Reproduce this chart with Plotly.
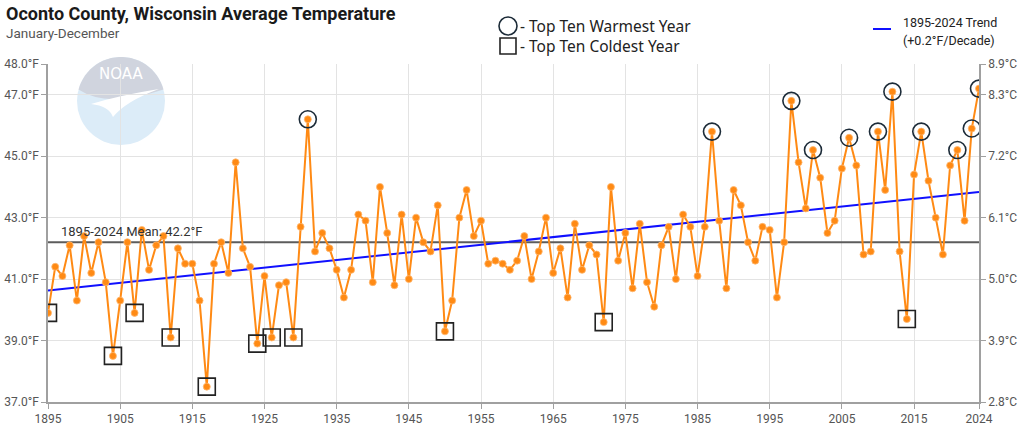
import numpy as np
import plotly.graph_objects as go

# ---------------- data ----------------
years = list(range(1895, 2025))
temps_f = [
    39.9, 41.4, 41.1, 42.1, 40.3, 42.4, 41.2, 42.2, 40.9, 38.5,   # 1895-1904
    40.3, 42.2, 39.9, 42.6, 41.3, 42.1, 42.4, 39.1, 42.0, 41.5,   # 1905-1914
    41.5, 40.3, 37.5, 41.5, 42.2, 41.2, 44.8, 42.0, 41.4, 38.9,   # 1915-1924
    41.1, 39.1, 40.8, 40.9, 39.1, 42.7, 46.2, 41.9, 42.5, 42.0,   # 1925-1934
    41.3, 40.4, 41.3, 43.1, 42.9, 40.9, 44.0, 42.5, 40.8, 43.1,   # 1935-1944
    41.0, 43.0, 42.2, 41.9, 43.4, 39.3, 40.3, 43.0, 43.9, 42.4,   # 1945-1954
    42.9, 41.5, 41.6, 41.5, 41.3, 41.6, 42.4, 41.0, 41.9, 43.0,   # 1955-1964
    41.2, 42.0, 40.4, 42.8, 41.3, 42.1, 41.8, 39.6, 44.0, 41.6,   # 1965-1974
    42.5, 40.7, 42.8, 40.9, 40.1, 42.1, 42.7, 41.0, 43.1, 42.7,   # 1975-1984
    41.1, 42.7, 45.8, 42.9, 40.7, 43.9, 43.4, 42.2, 41.6, 42.7,   # 1985-1994
    42.6, 40.4, 42.2, 46.8, 44.8, 43.3, 45.2, 44.3, 42.5, 42.9,   # 1995-2004
    44.6, 45.6, 44.7, 41.8, 41.9, 45.8, 43.9, 47.1, 41.9, 39.7,   # 2005-2014
    44.4, 45.8, 44.2, 43.0, 41.8, 44.7, 45.2, 42.9, 45.9, 47.2,   # 2015-2024
]
assert len(temps_f) == len(years)

warmest_years = [1931, 1987, 1998, 2001, 2006, 2010, 2012, 2016, 2021, 2023, 2024]
coldest_years = [1895, 1904, 1907, 1912, 1917, 1924, 1926, 1929, 1950, 1972, 2014]

x_ticks = [1895, 1905, 1915, 1925, 1935, 1945, 1955, 1965, 1975, 1985, 1995, 2005, 2015, 2024]
y_ticks_f = [37, 39, 41, 43, 45, 47, 48]
y_tick_labels_f = [f"{v:.1f}°F" for v in y_ticks_f]
y_tick_labels_c = [f"{(v - 32) * 5 / 9:.1f}°C" for v in y_ticks_f]

title_text = "Oconto County, Wisconsin Average Temperature"
subtitle_text = "January-December"

# ---------------- derived ----------------
lookup = dict(zip(years, temps_f))
warm_vals = [lookup[y] for y in warmest_years]
cold_vals = [lookup[y] for y in coldest_years]
mean_val = float(np.mean(temps_f))
slope, intercept = np.polyfit(years, temps_f, 1)
trend_x = [years[0], years[-1]]
trend_y = [slope * x + intercept for x in trend_x]

# ---------------- layout geometry ----------------
W, H = 1024, 432
ML, MR, MT, MB = 48, 45, 64, 30
PW = W - ML - MR
PH = H - MT - MB


def pxx(px):
    return (px - ML) / PW


def pxy(py):
    return (H - MB - py) / PH


ORANGE = "#FF8A14"
GRID = "#e3e3e3"
AXIS = "#a0a0a0"
TICKFONT = dict(family="Roboto", size=12, color="#555555")

fig = go.Figure()

# mean line
fig.add_trace(go.Scatter(x=[years[0], years[-1]], y=[round(mean_val, 1)] * 2, mode="lines",
                         line=dict(color="#5c5c5c", width=2), hoverinfo="skip"))
# trend
fig.add_trace(go.Scatter(x=trend_x, y=trend_y, mode="lines",
                         line=dict(color="#1010ff", width=2), hoverinfo="skip"))
# data
fig.add_trace(go.Scatter(x=years, y=temps_f, mode="lines+markers",
                         line=dict(color=ORANGE, width=2),
                         marker=dict(color=ORANGE, size=7, line=dict(color="#ffb870", width=0.8))))
# warmest circles
fig.add_trace(go.Scatter(x=warmest_years, y=warm_vals, mode="markers",
                         marker=dict(symbol="circle-open", size=17, color="#1c2b38",
                                     line=dict(width=1.6, color="#1c2b38"))))
# coldest squares
fig.add_trace(go.Scatter(x=coldest_years, y=cold_vals, mode="markers",
                         marker=dict(symbol="square-open", size=17, color="#222222",
                                     line=dict(width=1.6, color="#222222"))))
# dummy trace for right axis
fig.add_trace(go.Scatter(x=[years[0]], y=[y_ticks_f[0]], yaxis="y2", mode="markers",
                         marker=dict(opacity=0), hoverinfo="skip"))

shapes = []
# NOAA watermark (approximate)
cx, cy, r = 121, 101, 44
shapes.append(dict(type="circle", xref="paper", yref="paper", layer="below",
                   x0=pxx(cx - r), x1=pxx(cx + r), y0=pxy(cy + r), y1=pxy(cy - r),
                   fillcolor="#dcecf8", line=dict(width=0)))
# gray cap
pts = []
ang = np.linspace(np.deg2rad(195), np.deg2rad(345), 30)
for a in ang:
    pts.append((cx + r * np.cos(a), cy + r * np.sin(a)))
path = "M " + " L ".join(f"{pxx(x):.5f},{pxy(y):.5f}" for x, y in pts)
path += f" Q {pxx(cx + 20):.5f},{pxy(cy - 4):.5f} {pxx(cx):.5f},{pxy(cy - 2):.5f}"
path += f" Q {pxx(cx - 25):.5f},{pxy(cy):.5f} {pxx(pts[0][0]):.5f},{pxy(pts[0][1]):.5f} Z"
shapes.append(dict(type="path", xref="paper", yref="paper", layer="below", path=path,
                   fillcolor="#d0d4de", line=dict(width=0)))
# white swoosh
sw = (f"M {pxx(cx - 30):.5f},{pxy(cy + 3):.5f} Q {pxx(cx):.5f},{pxy(cy - 6):.5f} {pxx(cx + 38):.5f},{pxy(cy - 12):.5f}"
      f" Q {pxx(cx + 5):.5f},{pxy(cy):.5f} {pxx(cx - 8):.5f},{pxy(cy + 16):.5f}"
      f" Q {pxx(cx - 12):.5f},{pxy(cy + 5):.5f} {pxx(cx - 30):.5f},{pxy(cy + 3):.5f} Z")
shapes.append(dict(type="path", xref="paper", yref="paper", layer="below", path=sw,
                   fillcolor="#ffffff", line=dict(width=0)))

# legend icons
shapes.append(dict(type="circle", xref="paper", yref="paper", xsizemode="pixel", ysizemode="pixel",
                   xanchor=pxx(508), yanchor=pxy(26), x0=-9, x1=9, y0=-9, y1=9,
                   line=dict(color="#1c2b38", width=1.6)))
shapes.append(dict(type="rect", xref="paper", yref="paper", xsizemode="pixel", ysizemode="pixel",
                   xanchor=pxx(508), yanchor=pxy(46), x0=-8, x1=8, y0=-8, y1=8,
                   line=dict(color="#222222", width=1.6)))
shapes.append(dict(type="line", xref="paper", yref="paper",
                   x0=pxx(873), x1=pxx(891), y0=pxy(29), y1=pxy(29),
                   line=dict(color="#1010ff", width=2)))

annotations = [
    dict(text=f"<b>{title_text}</b>", xref="paper", yref="paper", x=pxx(4), y=pxy(14),
         xanchor="left", yanchor="middle", showarrow=False,
         font=dict(family="Roboto", size=18, color="#1a1a1a")),
    dict(text=subtitle_text, xref="paper", yref="paper", x=pxx(4), y=pxy(33),
         xanchor="left", yanchor="middle", showarrow=False,
         font=dict(family="Roboto", size=13.5, color="#555555")),
    dict(text="NOAA", xref="paper", yref="paper", x=pxx(cx), y=pxy(74),
         xanchor="center", yanchor="middle", showarrow=False,
         font=dict(family="DejaVu Sans", size=15, color="#ffffff")),
    dict(text="- Top Ten Warmest Year", xref="paper", yref="paper", x=pxx(518), y=pxy(26),
         xanchor="left", yanchor="middle", showarrow=False,
         font=dict(family="Noto Sans", size=15.5, color="#222222")),
    dict(text="- Top Ten Coldest Year", xref="paper", yref="paper", x=pxx(518), y=pxy(46),
         xanchor="left", yanchor="middle", showarrow=False,
         font=dict(family="Noto Sans", size=15.5, color="#222222")),
    dict(text="1895-2024 Trend", xref="paper", yref="paper", x=pxx(901), y=pxy(22),
         xanchor="left", yanchor="middle", showarrow=False,
         font=dict(family="Roboto", size=12.5, color="#222222")),
    dict(text="(+0.2°F/Decade)", xref="paper", yref="paper", x=pxx(901), y=pxy(40),
         xanchor="left", yanchor="middle", showarrow=False,
         font=dict(family="Roboto", size=12.5, color="#222222")),
    dict(text=f"{years[0]}-{years[-1]} Mean: {mean_val:.1f}°F", x=1896.5, y=round(mean_val, 1),
         xref="x", yref="y", xanchor="left", yanchor="bottom", yshift=1, showarrow=False,
         font=dict(family="Roboto", size=13, color="#333333")),
]

fig.update_layout(
    width=W, height=H,
    margin=dict(l=ML, r=MR, t=MT, b=MB, autoexpand=False),
    paper_bgcolor="white", plot_bgcolor="white",
    showlegend=False,
    shapes=shapes, annotations=annotations,
    xaxis=dict(range=[years[0], years[-1]], tickvals=x_ticks, ticktext=[str(t) for t in x_ticks],
               showgrid=True, gridcolor=GRID, gridwidth=1, zeroline=False, automargin=False,
               showline=True, linecolor=AXIS, linewidth=1.5, ticks="outside", ticklen=5,
               tickcolor=AXIS, tickfont=TICKFONT),
    yaxis=dict(range=[37, 48], tickvals=y_ticks_f, ticktext=y_tick_labels_f, automargin=False,
               showgrid=True, gridcolor=GRID, gridwidth=1, zeroline=False,
               showline=True, linecolor=AXIS, linewidth=1.5, ticks="outside", ticklen=5,
               tickcolor=AXIS, tickfont=TICKFONT),
    yaxis2=dict(range=[37, 48], tickvals=y_ticks_f, ticktext=y_tick_labels_c, overlaying="y",
                side="right", showgrid=False, zeroline=False, automargin=False,
                showline=True, linecolor=AXIS, linewidth=1.5, ticks="outside", ticklen=5,
                tickcolor=AXIS, tickfont=TICKFONT),
)

fig.write_html(
    "out.html",
    config={"displayModeBar": False},
    post_script="document.body.style.margin='0px';document.body.style.padding='0px';"
                "document.body.style.overflow='hidden';",
)
